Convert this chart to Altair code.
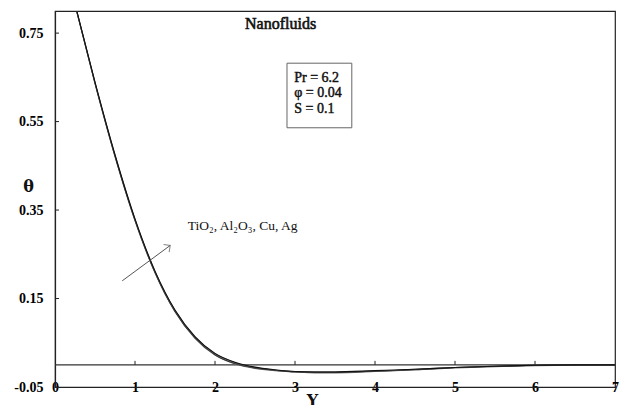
import altair as alt
import pandas as pd

# ---- data ----
Y = [0.0, 0.25, 0.5, 0.75, 1.0, 1.25, 1.5, 1.75, 2.0, 2.25, 2.5, 2.75,
     3.0, 3.25, 3.5, 4.0, 4.5, 5.0, 5.5, 6.0, 6.5, 7.0]
fluids = ["TiO₂", "Al₂O₃", "Cu", "Ag"]
theta_tio2 = [1.0, 0.814, 0.636, 0.471, 0.326, 0.208, 0.120, 0.060, 0.022, 0.002, -0.008, -0.013,
              -0.016, -0.018, -0.018, -0.015, -0.011, -0.007, -0.004, -0.002, -0.001, 0.0]
theta_al2o3 = [1.0, 0.815, 0.637, 0.472, 0.327, 0.209, 0.121, 0.061, 0.023, 0.003, -0.007, -0.012,
               -0.016, -0.017, -0.017, -0.014, -0.011, -0.006, -0.003, -0.001, 0.0, 0.0]
theta_cu = [1.0, 0.815, 0.638, 0.474, 0.329, 0.211, 0.123, 0.063, 0.025, 0.005, -0.006, -0.012,
            -0.015, -0.016, -0.016, -0.014, -0.010, -0.006, -0.003, -0.001, 0.0, 0.0]
theta_ag = [1.0, 0.816, 0.639, 0.475, 0.330, 0.212, 0.124, 0.064, 0.026, 0.006, -0.005, -0.011,
            -0.015, -0.016, -0.016, -0.013, -0.010, -0.006, -0.003, -0.001, 0.0, 0.0]
series = [theta_tio2, theta_al2o3, theta_cu, theta_ag]
line_colors = ["#666666", "#333333", "#555555", "#111111"]

x_tick_values = [0, 1, 2, 3, 4, 5, 6, 7]
inner_x_ticks = [1, 2, 3, 4, 5, 6]
y_tick_values = [-0.05, 0.15, 0.35, 0.55, 0.75]

title_text = ["Nanofluids"]
title_pos = [2.82, 0.759]
param_lines = ["Pr = 6.2", "φ = 0.04", "S = 0.1"]
param_x = 2.99
param_y = [0.640, 0.606, 0.570]
box_x = [2.9, 3.71]
box_y = [0.536, 0.682]
species_text = ["TiO₂, Al₂O₃, Cu, Ag"]
species_pos = [1.66, 0.305]
arrow_x = [0.84, 1.44]
arrow_y = [0.19, 0.27]

FONT = "Liberation Serif"
FONT_BOLD = "DejaVu Serif"

rows = []
for name, vals in zip(fluids, series):
    for yv, t in zip(Y, vals):
        rows.append({"Y": yv, "theta": t, "fluid": name})
df = pd.DataFrame(rows)

xs = alt.Scale(domain=[0, 7], nice=False, zero=False)
ys = alt.Scale(domain=[-0.05, 0.8], nice=False, zero=False)

x_axis = alt.Axis(values=x_tick_values, format="d", title="Y", grid=False,
                  ticks=False, tickSize=0, labelPadding=0, labelBaseline="middle",
                  labelFont=FONT, labelFontSize=14, labelFontWeight=600, labelColor="#000",
                  labelFlush=False, labelOverlap=False, labelBound=False,
                  domainColor="#222", domainWidth=1.2,
                  titleFont=FONT_BOLD, titleFontSize=16, titleFontWeight="bold", titleColor="#111",
                  titleX=257, titleY=18, titleBaseline="alphabetic", titleAlign="center")
y_axis = alt.Axis(values=y_tick_values, title="θ", grid=False, ticks=False, tickSize=0,
                  labelExpr="replace(format(datum.value, '.2f'), '−', '-')",
                  labelPadding=12, labelFont=FONT, labelFontSize=14, labelFontWeight=600,
                  labelColor="#000", labelFlush=False, labelOverlap=False,
                  domainColor="#222", domainWidth=1.2,
                  titleFont=FONT_BOLD, titleFontSize=16, titleFontWeight="bold", titleColor="#111",
                  titleAngle=0, titleX=-27, titleY=175, titleAlign="center", titleBaseline="middle")

lines = alt.Chart(df).mark_line(interpolate="monotone", strokeWidth=1.1, clip=True).encode(
    x=alt.X("Y:Q", scale=xs, axis=x_axis),
    y=alt.Y("theta:Q", scale=ys, axis=y_axis),
    color=alt.Color("fluid:N", scale=alt.Scale(domain=fluids, range=line_colors), legend=None),
)

zero_line = alt.Chart(pd.DataFrame({"theta": [0.0]})).mark_rule(color="#333", strokeWidth=1.2).encode(
    y=alt.Y("theta:Q", scale=ys)
)

xt = pd.DataFrame({"Y": inner_x_ticks, "t0": [0.0] * len(inner_x_ticks), "t1": [0.009] * len(inner_x_ticks)})
x_ticks_layer = alt.Chart(xt).mark_rule(color="#222", strokeWidth=1).encode(
    x=alt.X("Y:Q", scale=xs), y=alt.Y("t0:Q", scale=ys), y2="t1:Q"
)

yt = pd.DataFrame({"theta": y_tick_values, "x0": [0.0] * len(y_tick_values), "x1": [0.05] * len(y_tick_values)})
y_ticks_layer = alt.Chart(yt).mark_rule(color="#222", strokeWidth=1).encode(
    y=alt.Y("theta:Q", scale=ys), x=alt.X("x0:Q", scale=xs), x2="x1:Q"
)

title_layer = alt.Chart(pd.DataFrame({"x": [title_pos[0]], "y": [title_pos[1]], "t": title_text})).mark_text(
    font=FONT, fontSize=16, color="#111", stroke="#111", strokeWidth=0.6,
    align="center", baseline="alphabetic"
).encode(x=alt.X("x:Q", scale=xs), y=alt.Y("y:Q", scale=ys), text="t:N")

box_layer = alt.Chart(pd.DataFrame({"x0": [box_x[0]], "x1": [box_x[1]], "y0": [box_y[0]], "y1": [box_y[1]]})).mark_rect(
    fill="white", fillOpacity=0, stroke="#666", strokeWidth=1
).encode(x=alt.X("x0:Q", scale=xs), x2="x1:Q", y=alt.Y("y0:Q", scale=ys), y2="y1:Q")

params_layer = alt.Chart(pd.DataFrame({"x": [param_x] * 3, "y": param_y, "t": param_lines})).mark_text(
    font=FONT, fontSize=14, color="#111", stroke="#111", strokeWidth=0.45,
    align="left", baseline="alphabetic"
).encode(x=alt.X("x:Q", scale=xs), y=alt.Y("y:Q", scale=ys), text="t:N")

species_layer = alt.Chart(pd.DataFrame({"x": [species_pos[0]], "y": [species_pos[1]], "t": species_text})).mark_text(
    font=FONT, fontSize=13.5, color="#111", align="left", baseline="alphabetic"
).encode(x=alt.X("x:Q", scale=xs), y=alt.Y("y:Q", scale=ys), text="t:N")

arrow_df = pd.DataFrame({"x": arrow_x, "y": arrow_y, "o": [0, 1]})
arrow_shaft = alt.Chart(arrow_df).mark_line(color="#555", strokeWidth=1).encode(
    x=alt.X("x:Q", scale=xs), y=alt.Y("y:Q", scale=ys), order="o:Q"
)
arrow_head = alt.Chart(arrow_df.iloc[[1]]).mark_point(
    shape="M-1,1L0,0L1,1", filled=False, stroke="#555", strokeWidth=1, size=90, angle=54
).encode(x=alt.X("x:Q", scale=xs), y=alt.Y("y:Q", scale=ys))

chart = alt.layer(
    zero_line, x_ticks_layer, y_ticks_layer, lines, box_layer, title_layer,
    params_layer, species_layer, arrow_shaft, arrow_head
).properties(
    width=560, height=376,
    autosize=alt.AutoSizeParams(type="none"),
    padding={"left": 55, "top": 11, "right": 6, "bottom": 18},
    background="white",
).configure_view(stroke="#222", strokeWidth=1.2)

chart.save("out.html", embed_options={"renderer": "svg", "actions": False})
